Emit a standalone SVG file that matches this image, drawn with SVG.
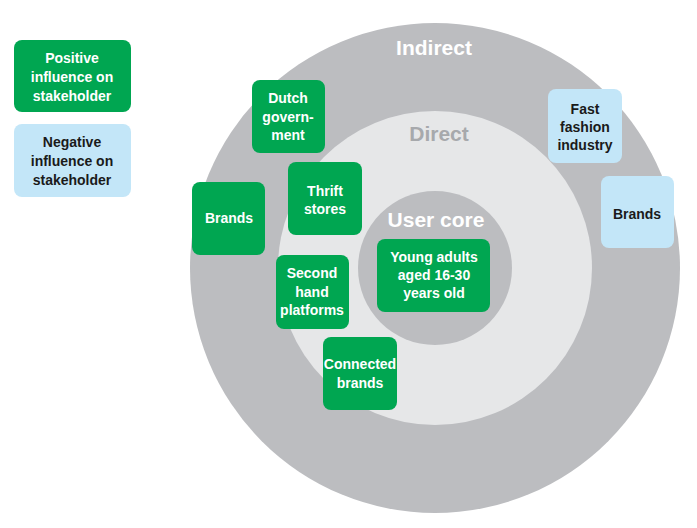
<svg xmlns="http://www.w3.org/2000/svg" width="697" height="528" viewBox="0 0 697 528">
<style>
.pos{fill:#00a651}
.neg{fill:#c3e6f8}
.t{font-family:"Liberation Sans",Arial,sans-serif;font-weight:bold;font-size:14px;text-anchor:middle}
.w{fill:#ffffff}
.k{fill:#1a1a1a}
.ring{font-family:"Liberation Sans",Arial,sans-serif;font-weight:bold;font-size:21px;text-anchor:middle}
</style>
<rect width="697" height="528" fill="#ffffff"/>
<g id="rings">
<circle cx="435" cy="268" r="245" fill="#bcbdc0"/>
<circle cx="435" cy="268" r="157" fill="#e6e7e8"/>
<circle cx="435" cy="268" r="77" fill="#bcbdc0"/>
<text class="ring" x="434" y="55" fill="#ffffff">Indirect</text>
<text class="ring" x="439" y="141" fill="#a7a9ac">Direct</text>
<text class="ring" x="436" y="227" fill="#ffffff">User core</text>
</g>
<g id="legend-positive">
<rect class="pos" x="14" y="40" width="117" height="72" rx="8"/>
<text class="t w" x="72" y="63">Positive</text>
<text class="t w" x="72" y="82">influence on</text>
<text class="t w" x="72" y="101">stakeholder</text>
</g>
<g id="legend-negative">
<rect class="neg" x="14" y="124" width="117" height="73" rx="8"/>
<text class="t k" x="72" y="147">Negative</text>
<text class="t k" x="72" y="166">influence on</text>
<text class="t k" x="72" y="185">stakeholder</text>
</g>
<g id="dutch-government">
<rect class="pos" x="252" y="80" width="73" height="73" rx="8"/>
<text class="t w" x="288" y="103">Dutch</text>
<text class="t w" x="288" y="122">govern-</text>
<text class="t w" x="288" y="140">ment</text>
</g>
<g id="thrift-stores">
<rect class="pos" x="288" y="162" width="74" height="73" rx="8"/>
<text class="t w" x="325" y="196">Thrift</text>
<text class="t w" x="325" y="214">stores</text>
</g>
<g id="brands-positive">
<rect class="pos" x="192" y="182" width="73" height="73" rx="8"/>
<text class="t w" x="229" y="223">Brands</text>
</g>
<g id="second-hand-platforms">
<rect class="pos" x="276" y="255" width="73" height="74" rx="8"/>
<text class="t w" x="312" y="278">Second</text>
<text class="t w" x="312" y="297">hand</text>
<text class="t w" x="312" y="315">platforms</text>
</g>
<g id="connected-brands">
<rect class="pos" x="323" y="337" width="74" height="73" rx="8"/>
<text class="t w" x="360" y="369">Connected</text>
<text class="t w" x="360" y="388">brands</text>
</g>
<g id="young-adults">
<rect class="pos" x="377" y="239" width="113" height="73" rx="8"/>
<text class="t w" x="434" y="262">Young adults</text>
<text class="t w" x="434" y="280">aged 16-30</text>
<text class="t w" x="434" y="298">years old</text>
</g>
<g id="fast-fashion-industry">
<rect class="neg" x="548" y="89" width="74" height="74" rx="8"/>
<text class="t k" x="585" y="114">Fast</text>
<text class="t k" x="585" y="132">fashion</text>
<text class="t k" x="585" y="150">industry</text>
</g>
<g id="brands-negative">
<rect class="neg" x="601" y="176" width="73" height="72" rx="8"/>
<text class="t k" x="637" y="219">Brands</text>
</g>
<g id="connectors"></g>
</svg>
